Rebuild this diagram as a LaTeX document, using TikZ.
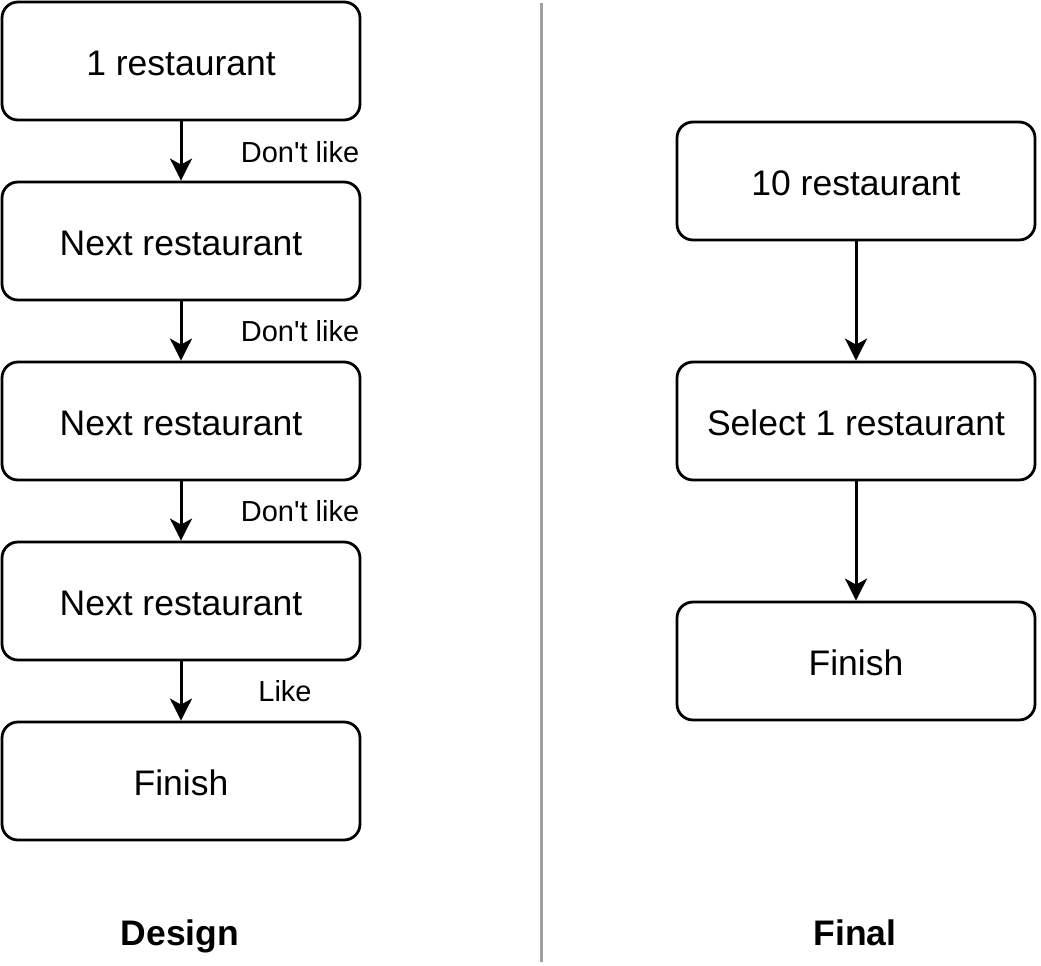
\documentclass[tikz,border=0pt]{standalone}
\usepackage{fontspec}
\setmainfont{Liberation Sans}
\usetikzlibrary{arrows.meta}
\definecolor{divgray}{HTML}{A0A0A0}
\tikzset{
  flowbox/.style={draw=black, line width=2.8pt, rounded corners=16pt, fill=white,
    minimum width=358pt, minimum height=118pt, inner sep=0pt,
    text height=29pt, text depth=1pt,
    font=\fontsize{35.5}{42}\selectfont},
  flowarrow/.style={line width=3pt, -{Stealth[length=22pt,width=22pt,inset=6pt]}},
  edgelabel/.style={font=\fontsize{29}{34}\selectfont, inner sep=0pt},
  titlelabel/.style={font=\fontsize{35.5}{42}\selectfont\bfseries, inner sep=0pt,
    text height=26pt, text depth=7pt}
}
\begin{document}
\begin{tikzpicture}[x=1pt,y=-1pt]
\useasboundingbox (0,0) rectangle (1041,966);
% left column
\node[flowbox] (a1) at (181,61) {1 restaurant};
\node[flowbox] (a2) at (181,241) {Next restaurant};
\node[flowbox] (a3) at (181,421) {Next restaurant};
\node[flowbox] (a4) at (181,601) {Next restaurant};
\node[flowbox] (a5) at (181,781) {Finish};
\draw[flowarrow] (a1) -- (a2);
\draw[flowarrow] (a2) -- (a3);
\draw[flowarrow] (a3) -- (a4);
\draw[flowarrow] (a4) -- (a5);
\node[edgelabel] (l1) at (300,152) {Don\textquotesingle t like};
\node[edgelabel] (l2) at (300,331) {Don\textquotesingle t like};
\node[edgelabel] (l3) at (300,511) {Don\textquotesingle t like};
\node[edgelabel] (l4) at (285,691) {Like};
% divider
\coordinate (d1) at (541.5,3);
\coordinate (d2) at (541.5,962);
\draw[divgray, line width=2.6pt] (d1) -- (d2);
% right column
\node[flowbox] (b1) at (856,181) {10 restaurant};
\node[flowbox] (b2) at (856,421) {Select 1 restaurant};
\node[flowbox] (b3) at (856,661) {Finish};
\draw[flowarrow] (b1) -- (b2);
\draw[flowarrow] (b2) -- (b3);
% titles
\node[titlelabel] (t1) at (180,936) {Design};
\node[titlelabel] (t2) at (855,936) {Final};
\end{tikzpicture}
\end{document}
